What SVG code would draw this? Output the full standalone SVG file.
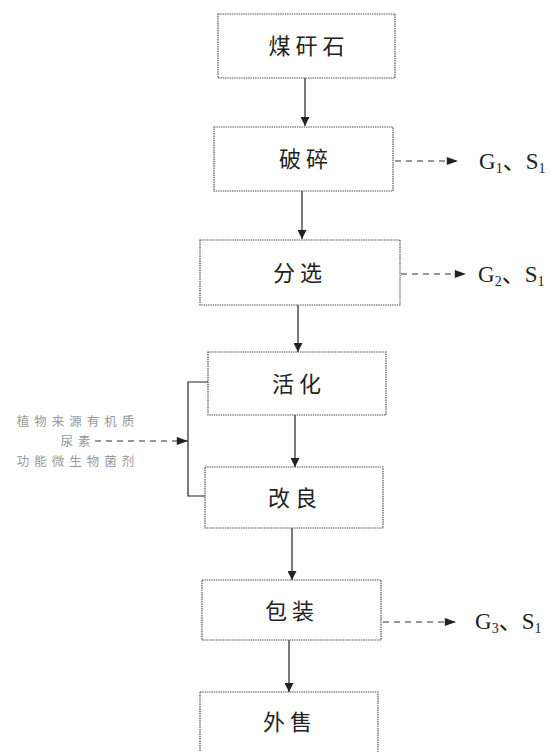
<svg xmlns="http://www.w3.org/2000/svg" width="559" height="752" viewBox="0 0 559 752">
<style>
.box{fill:#fff;stroke:#555;stroke-width:1.2;stroke-dasharray:1.5 0.8}
.lbl{font-family:"Noto Sans CJK SC","Noto Sans",sans-serif;font-size:22px;fill:#222;text-anchor:middle;letter-spacing:5px}
.ln{stroke:#222;stroke-width:1.2;fill:none}
.dash{stroke:#333;stroke-width:1.2;fill:none;stroke-dasharray:6 5}
.out{font-family:"Liberation Serif","Noto Sans CJK SC",serif;font-size:23px;fill:#222}
.sub{font-size:14px}
.side{font-family:"Noto Sans CJK SC",serif;font-size:12.5px;fill:#999;text-anchor:middle;letter-spacing:5px}
</style>
<defs>
<marker id="ah" viewBox="0 0 10 10" refX="10" refY="5" markerWidth="9" markerHeight="9" markerUnits="userSpaceOnUse" orient="auto"><path d="M0,0L10,5L0,10z" fill="#222"/></marker>
<marker id="ahh" viewBox="0 0 14 10" refX="14" refY="5" markerWidth="14" markerHeight="8" markerUnits="userSpaceOnUse" orient="auto"><path d="M0,0L14,5L0,10z" fill="#222"/></marker>
</defs>
<rect width="559" height="752" fill="#fff"/>
<g id="connectors">
<line class="ln" x1="305" y1="78" x2="305" y2="126" marker-end="url(#ah)"/>
<line class="ln" x1="302" y1="191" x2="302" y2="239" marker-end="url(#ah)"/>
<line class="ln" x1="298" y1="305" x2="298" y2="352" marker-end="url(#ah)"/>
<line class="ln" x1="295" y1="415" x2="295" y2="467" marker-end="url(#ah)"/>
<line class="ln" x1="292" y1="528" x2="292" y2="580" marker-end="url(#ah)"/>
<line class="ln" x1="289" y1="640" x2="289" y2="692" marker-end="url(#ah)"/>
<line class="dash" x1="395" y1="161" x2="458" y2="161" marker-end="url(#ahh)"/>
<line class="dash" x1="401" y1="274" x2="466" y2="274" marker-end="url(#ahh)"/>
<line class="dash" x1="383" y1="622" x2="456" y2="622" marker-end="url(#ahh)"/>
<polyline class="ln" points="208,382 188,382 188,496 205,496"/>
<line class="dash" x1="95" y1="441" x2="188" y2="441" marker-end="url(#ahh)"/>
</g>
<g id="n1"><rect class="box" x="218" y="14" width="177" height="64"/><text class="lbl" x="309" y="54">煤矸石</text></g>
<g id="n2"><rect class="box" x="214" y="127" width="179" height="64"/><text class="lbl" x="306" y="167">破碎</text></g>
<g id="n3"><rect class="box" x="200" y="240" width="200" height="65"/><text class="lbl" x="300" y="281">分选</text></g>
<g id="n4"><rect class="box" x="208" y="352" width="178" height="63"/><text class="lbl" x="299" y="392">活化</text></g>
<g id="n5"><rect class="box" x="205" y="467" width="178" height="61"/><text class="lbl" x="295" y="506">改良</text></g>
<g id="n6"><rect class="box" x="202" y="580" width="179" height="60"/><text class="lbl" x="292" y="619">包装</text></g>
<g id="n7"><rect class="box" x="200" y="692" width="178" height="62"/><text class="lbl" x="290" y="730">外售</text></g>
<g id="o1"><text class="out" x="479" y="169">G<tspan class="sub" dy="4">1</tspan><tspan dy="-4">、S</tspan><tspan class="sub" dy="4">1</tspan></text></g>
<g id="o2"><text class="out" x="478" y="282">G<tspan class="sub" dy="4">2</tspan><tspan dy="-4">、S</tspan><tspan class="sub" dy="4">1</tspan></text></g>
<g id="o3"><text class="out" x="475" y="629">G<tspan class="sub" dy="4">3</tspan><tspan dy="-4">、S</tspan><tspan class="sub" dy="4">1</tspan></text></g>
<g id="inputs">
<text class="side" x="78" y="426">植物来源有机质</text>
<text class="side" x="78" y="446">尿素</text>
<text class="side" x="78" y="466">功能微生物菌剂</text>
</g>
</svg>
